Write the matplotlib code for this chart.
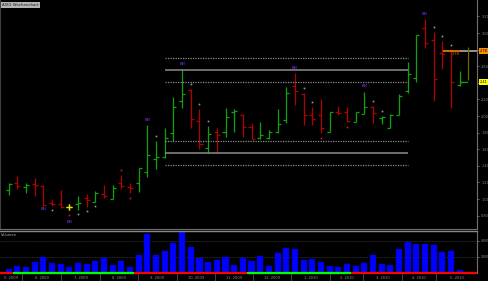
import numpy as np
import matplotlib
matplotlib.use("Agg")
import matplotlib.pyplot as plt

# weekly OHLC
opens = [1.108, 1.189, 1.141, 1.181, 1.157, 0.956, 0.940, 0.908, 0.940, 1.008,
         0.968, 1.056, 1.004, 1.197, 1.141, 1.189, 1.329, 1.478, 1.510, 1.792,
         2.184, 2.313, 1.940, 1.618, 1.804, 1.804, 2.045, 2.012, 1.864, 1.731,
         1.731, 1.804, 1.952, 2.361, 2.261, 2.012, 2.012, 1.811, 2.052, 2.045,
         1.931, 2.024, 2.112, 1.972, 1.859, 2.012, 2.305, 2.454, 3.056, 2.916,
         2.755, 2.783, 2.373]
highs = [1.189, 1.277, 1.189, 1.249, 1.169, 1.000, 1.108, 0.940, 1.040, 1.056,
         1.100, 1.169, 1.169, 1.289, 1.197, 1.378, 1.892, 1.699, 1.852, 2.229,
         2.563, 2.322, 2.081, 1.880, 1.852, 2.093, 2.081, 2.024, 1.919, 1.924,
         1.831, 2.081, 2.346, 2.518, 2.273, 2.112, 2.205, 2.052, 2.124, 2.112,
         2.052, 2.293, 2.120, 2.000, 2.024, 2.261, 2.654, 2.976, 3.169, 3.008,
         2.904, 2.795, 2.542]
lows = [1.048, 1.116, 1.076, 1.036, 0.920, 0.916, 0.888, 0.867, 0.867, 0.908,
        0.968, 1.008, 0.996, 1.116, 1.068, 1.088, 1.261, 1.361, 1.490, 1.702,
        2.093, 1.852, 1.599, 1.558, 1.558, 1.751, 1.811, 1.751, 1.719, 1.719,
        1.719, 1.792, 1.919, 2.133, 1.892, 1.892, 1.795, 1.811, 2.012, 1.931,
        1.924, 2.024, 1.912, 1.904, 1.852, 2.012, 2.273, 2.413, 2.823, 2.181,
        2.563, 2.096, 2.361]
closes = [1.181, 1.157, 1.165, 1.165, 0.924, 0.940, 0.908, 0.908, 0.956, 0.988,
          1.068, 1.036, 1.129, 1.157, 1.129, 1.369, 1.530, 1.502, 1.731, 2.105,
          2.261, 1.960, 1.659, 1.783, 1.771, 1.984, 2.060, 1.864, 1.727, 1.771,
          1.804, 1.904, 2.273, 2.301, 2.012, 1.964, 1.855, 2.045, 2.033, 1.940,
          2.045, 2.112, 2.033, 1.992, 2.012, 2.245, 2.506, 2.976, 2.876, 2.446,
          2.747, 2.410, 2.413]
volumes = [4600, 7900, 7100, 13700, 19600, 11700, 10800, 7100, 12100, 10800,
           14600, 18300, 9200, 14200, 6700, 21700, 47900, 21700, 26700, 37100,
           51000, 32100, 18700, 12900, 15800, 19600, 9600, 18300, 14200, 20400,
           8300, 24200, 31200, 30000, 15800, 17100, 13300, 7900, 6700, 10400,
           7900, 12500, 21700, 11200, 9200, 29200, 37900, 36200, 36200, 34200,
           25800, 27100, 3800]

month_labels = ["5. 2009", "6. 2009", "7. 2009", "8. 2009", "9. 2009", "10. 2009",
                "11. 2009", "12. 2009", "1. 2010", "2. 2010", "3. 2010", "4. 2010",
                "5. 2010"]
# month boundaries in bar units
month_edges = [2.55, 7.05, 11.5, 15.9, 20.4, 24.8, 29.2, 33.6, 38.1, 41.9, 46.4, 50.3]

# trend colouring of the baseline (bar boundaries)
trend_edges = [0.0, 1.5, 15.5, 28.5, 40.5, 55.0]
trend_cols = ["#ff0000", "#00ff00", "#ff0000", "#00ff00", "#ff0000"]

# channel lines: upper and lower band, drawn between two bars
upper_band = [2.702, 2.558, 2.413]
lower_band = [1.702, 1.558, 1.410]
band_from, band_to = 19, 47

last_marker = 2.787
last_price = 2.413

dots_above = [18, 22, 23, 24, 35, 36, 43, 44, 50, 51, 52]
dots_below = [6, 9, 10, 11]
red_above = [14]
red_below = [8, 15, 37, 40]
tags_above = [17, 21, 34, 42, 49]
tags_below = [5, 8]

BG = "#000000"
GREEN = "#10a010"
RED = "#b00000"
GRAY = "#8c8c8c"
XMAX = 55.0

n = len(opens)
x = np.arange(1, n + 1)
o, h, l, c = map(np.array, (opens, highs, lows, closes))
cols = [GREEN if cc > oo else (RED if cc < oo else "#e6e600") for oo, cc in zip(o, c)]

fig = plt.figure(figsize=(4.89, 2.81), dpi=100, facecolor=BG)
ax = fig.add_axes([0, 0.185, 0.9755, 0.815], facecolor=BG)
axv = fig.add_axes([0, 0.0295, 0.9755, 0.1484], facecolor=BG)

# price bars
tw = 0.35
ax.vlines(x, l, h, colors=cols, lw=0.9)
ax.hlines(o, x - tw, x, colors=cols, lw=0.9)
ax.hlines(c, x, x + tw, colors=cols, lw=0.9)
ax.plot([x[-1], x[-1] + 0.85], [c[-1], c[-1]], color=GREEN, lw=0.9)

# neutral bar gets a cross
for i in range(n):
    if o[i] == c[i]:
        ax.plot(x[i], c[i], marker="+", ms=5, mew=0.9, color="#e6e600")

# channel lines
for band in (upper_band, lower_band):
    ax.hlines(band[0], band_from, band_to, colors=GRAY, lw=0.9, linestyles=(0, (1, 1)))
    ax.hlines(band[1], band_from, band_to, colors=GRAY, lw=1.1)
    ax.hlines(band[2], band_from, band_to, colors=GRAY, lw=0.9, linestyles=(0, (1, 1)))

# last price marker lines
ax.hlines(last_marker, 51.05, 53.05, colors="#e07800", lw=1.3)
ax.hlines(last_marker, 53.05, XMAX, colors="#a0a0a0", lw=1.3)
ax.text(53.0, last_marker - 0.02, "2.78", color="#e07800", fontsize=2.5, ha="right", va="top")
ax.vlines(54.0, 2.434, 2.831, colors="#6b6b00", lw=0.9)

# small markers
for i in dots_above:
    ax.plot(x[i - 1], h[i - 1] + 0.06, "s", ms=1.2, color="#9a9a9a", mew=0)
for i in dots_below:
    ax.plot(x[i - 1], l[i - 1] - 0.05, "s", ms=1.2, color="#9a9a9a", mew=0)
for i in red_above:
    ax.plot(x[i - 1], h[i - 1] + 0.06, "s", ms=1.3, color="#c01040", mew=0)
for i in red_below:
    ax.plot(x[i - 1], l[i - 1] - 0.06, "s", ms=1.3, color="#c01040", mew=0)
for i in tags_above:
    ax.text(x[i - 1], h[i - 1] + 0.04, "BH", color="#5a1fb4", fontsize=2.6,
            ha="center", va="bottom", fontweight="bold")
for i in tags_below:
    ax.text(x[i - 1], l[i - 1] - (0.12 if i == 8 else 0.02), "BH", color="#5a1fb4",
            fontsize=2.6, ha="center", va="top", fontweight="bold")

ax.set_xlim(0, XMAX)
ax.set_ylim(0.639, 3.398)
ax.yaxis.tick_right()
ticks = np.arange(0.8, 3.21, 0.2)
ax.set_yticks(ticks)
ax.set_yticklabels([f"{v:.2f}" for v in ticks])
ax.tick_params(axis="y", colors=GRAY, labelsize=2.5, length=1.5, width=0.5, pad=1.5)
ax.set_xticks([])
for s in ax.spines.values():
    s.set_visible(False)
ax.spines["right"].set_visible(True)
ax.spines["right"].set_color("#707070")
ax.spines["left"].set_visible(True)
ax.spines["left"].set_color("#404040")
ax.spines["bottom"].set_visible(True)
ax.spines["bottom"].set_color("#707070")

ax.text(0.005, 0.985, "AIXG Wochenchart", transform=ax.transAxes,
        fontsize=2.8, color="#202020", va="top", ha="left",
        bbox=dict(boxstyle="square,pad=0.25", fc="#b4b4b4", ec="none"))

ylab_kw = dict(fontsize=2.5, color="#000000", va="center", ha="left",
               transform=ax.get_yaxis_transform(), clip_on=False)
ax.text(1.006, last_marker, "2.78", bbox=dict(boxstyle="square,pad=0.3", fc="#ff8c00", ec="none"), **ylab_kw)
ax.text(1.006, last_price, "2.41", bbox=dict(boxstyle="square,pad=0.3", fc="#ffff00", ec="none"), **ylab_kw)

# volume
axv.bar(x, volumes, width=0.7, color="#0000ff", edgecolor="#0000c0", lw=0.3)
axv.set_xlim(0, XMAX)
axv.set_ylim(0, 52000)
axv.set_yticks([20000, 40000])
axv.yaxis.tick_right()
axv.tick_params(axis="y", colors=GRAY, labelsize=2.0, length=1.5, width=0.5, pad=1.0)
axv.grid(axis="y", color="#3a3a3a", lw=0.6, ls=(0, (1, 1)))
axv.set_axisbelow(True)
for s in axv.spines.values():
    s.set_visible(False)
axv.spines["right"].set_visible(True)
axv.spines["right"].set_color("#707070")
axv.spines["top"].set_visible(True)
axv.spines["top"].set_color("#8a8a8a")
axv.spines["top"].set_linewidth(1.0)
axv.text(0.003, 0.95, "Volumen", transform=axv.transAxes, fontsize=2.6, color="#b0b0b0",
         va="top", ha="left")

for k in range(len(trend_cols)):
    axv.plot([trend_edges[k], trend_edges[k + 1]], [0, 0], color=trend_cols[k], lw=1.6,
             solid_capstyle="butt", clip_on=False, zorder=5)

edges = [0.0] + month_edges + [XMAX]
mids = [(edges[k] + edges[k + 1]) / 2 for k in range(len(month_labels))]
axv.set_xticks(month_edges)
axv.set_xticklabels([])
axv.set_xticks(mids, minor=True)
axv.set_xticklabels(month_labels, minor=True)
axv.tick_params(axis="x", which="major", colors="#505050", length=7, width=0.6, direction="out")
axv.tick_params(axis="x", which="minor", colors=GRAY, length=0, labelsize=2.6, pad=2.5)

fig.savefig("out.png", dpi=100, facecolor=BG)
